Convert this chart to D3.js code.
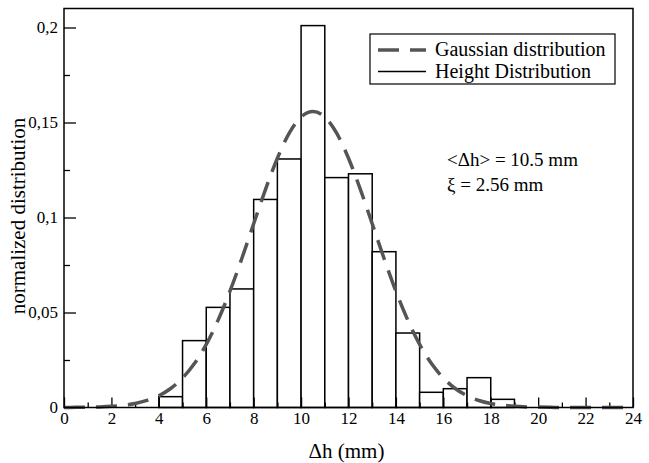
<!DOCTYPE html>
<html><head><meta charset="utf-8">
<script src="https://cdn.jsdelivr.net/npm/d3@7"></script>
<style>body{margin:0;background:#fff}svg{display:block}svg text{font-family:"Liberation Serif","Times New Roman","DejaVu Serif",serif}</style>
</head><body><svg id="c" width="649" height="463"></svg>
<script>
// Histogram bins (left edges, width 1 mm) and normalized heights
const binStarts = [4,5,6,7,8,9,10,11,12,13,14,15,16,17,18];
const heightValues = [0.0057,0.0352,0.0527,0.0624,0.1095,0.1308,0.201,0.121,0.123,0.082,0.0392,0.008,0.0099,0.0157,0.0043];
// Gaussian curve
const gaussX = [0,0.5,1,1.5,2,2.5,3,3.5,4,4.5,5,5.5,6,6.5,7,7.5,8,8.5,9,9.5,10,10.5,11,11.5,12,12.5,13,13.5,14,14.5,15,15.5,16,16.5,17,17.5,18,18.5,19,19.5,20,20.5,21,21.5,22,22.5,23,23.5,24];
const gaussY = [0.00003,0.00008,0.00016,0.00032,0.00063,0.00118,0.00213,0.00371,0.0062,0.0100,0.0155,0.0231,0.0332,0.0460,0.0612,0.0784,0.0967,0.1148,0.1312,0.1444,0.1529,0.1558,0.1529,0.1444,0.1312,0.1148,0.0967,0.0784,0.0612,0.0460,0.0332,0.0231,0.0155,0.0100,0.0062,0.0037,0.0021,0.0012,0.0006,0.0003,0.0002,0.0001,0.00003,0.00001,0,0,0,0,0];
const xMajorTicks = [0,2,4,6,8,10,12,14,16,18,20,22,24];
const xMinorTicks = [1,3,5,7,9,11,13,15,17,19,21,23];
const yMajorTicks = [0,0.05,0.1,0.15,0.2];
const yTickLabels = ["0","0,05","0,1","0,15","0,2"];
const yMinorTicks = [0.025,0.075,0.125,0.175];
const legendLabels = ["Gaussian distribution","Height Distribution"];
const annotations = ["<\u0394h> = 10.5 mm","\u03BE = 2.56 mm"];

const font = '"Liberation Serif","Times New Roman","DejaVu Serif",serif';
const svg = d3.select("#c");
const L = 64, R = 633, T = 8.5, B = 407.5;
const x = d3.scaleLinear().domain([0,24]).range([L,R]);
const y = d3.scaleLinear().domain([0,0.21]).range([B,T]);

// bars
svg.append("g").selectAll("rect").data(binStarts).join("rect")
  .attr("x", d => x(d)).attr("width", d => x(d+1)-x(d))
  .attr("y", (d,i) => y(heightValues[i])).attr("height", (d,i) => B - y(heightValues[i]))
  .attr("fill","#fff").attr("stroke","#000").attr("stroke-width",1.5);

// axes (inward ticks)
const gx = svg.append("g").attr("transform",`translate(0,${B})`)
  .call(d3.axisBottom(x).tickValues(xMajorTicks).tickSizeInner(-10).tickSizeOuter(0).tickPadding(4).tickFormat(d3.format("d")));
const gxm = svg.append("g").attr("transform",`translate(0,${B})`)
  .call(d3.axisBottom(x).tickValues(xMinorTicks).tickSizeInner(-5).tickSizeOuter(0).tickFormat(""));
const gy = svg.append("g").attr("transform",`translate(${L},0)`)
  .call(d3.axisLeft(y).tickValues(yMajorTicks).tickSizeInner(-12).tickSizeOuter(0).tickPadding(6).tickFormat((d,i)=>yTickLabels[i]));
const gym = svg.append("g").attr("transform",`translate(${L},0)`)
  .call(d3.axisLeft(y).tickValues(yMinorTicks).tickSizeInner(-6).tickSizeOuter(0).tickFormat(""));
[gx,gxm,gy,gym].forEach(g=>{
  g.attr("font-family",font).attr("font-size",17);
  g.select(".domain").remove();
  g.selectAll("line").attr("stroke","#000").attr("stroke-width",1.3);
  g.selectAll("text").attr("fill","#000").attr("font-family",font).attr("font-size",17);
});

// gaussian curve
svg.append("path").datum(gaussY)
  .attr("d", d3.line().x((d,i)=>x(gaussX[i])).y(d=>y(d)).curve(d3.curveMonotoneX))
  .attr("fill","none").attr("stroke","#555").attr("stroke-width",3.5).attr("stroke-dasharray","21,11");

// frame
svg.append("rect").attr("x",L).attr("y",T).attr("width",R-L).attr("height",B-T)
  .attr("fill","none").attr("stroke","#000").attr("stroke-width",1.5);

// axis labels
svg.append("text").attr("x",(L+R)/2 - 2).attr("y",458).attr("text-anchor","middle")
  .attr("font-family",font).attr("font-size",21).text("\u0394h (mm)");
svg.append("text").attr("transform","translate(25,216) rotate(-90)").attr("text-anchor","middle")
  .attr("font-family",font).attr("font-size",21).text("normalized distribution");

// legend
const lg = svg.append("g");
lg.append("rect").attr("x",370).attr("y",34).attr("width",245).attr("height",50)
  .attr("fill","#fff").attr("stroke","#000").attr("stroke-width",1.2);
lg.append("line").attr("x1",378).attr("x2",426).attr("y1",50).attr("y2",50)
  .attr("stroke","#555").attr("stroke-width",3.5).attr("stroke-dasharray","21,11");
lg.append("line").attr("x1",378).attr("x2",426).attr("y1",71.5).attr("y2",71.5)
  .attr("stroke","#000").attr("stroke-width",1.5);
lg.selectAll("text").data(legendLabels).join("text")
  .attr("x",435).attr("y",(d,i)=>56+i*21.5)
  .attr("font-family",font).attr("font-size",20).text(d=>d);

// annotation
svg.append("g").selectAll("text").data(annotations).join("text")
  .attr("x",447).attr("y",(d,i)=>166+i*25)
  .attr("font-family",font).attr("font-size",19).text(d=>d);
</script></body></html>
